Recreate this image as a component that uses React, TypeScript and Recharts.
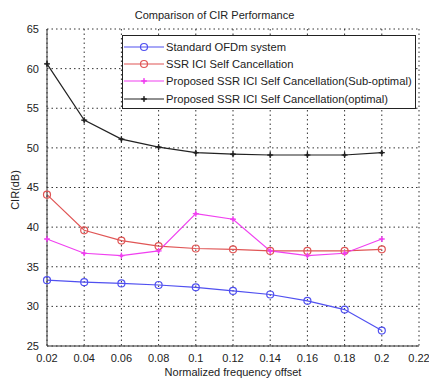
// CIR comparison chart — MATLAB style line plot
import { CartesianGrid, Line, LineChart, XAxis, YAxis } from "recharts";

const offsets = [0.02, 0.04, 0.06, 0.08, 0.1, 0.12, 0.14, 0.16, 0.18, 0.2];
const standardOfdm = [33.3, 33.05, 32.9, 32.7, 32.4, 31.95, 31.5, 30.7, 29.6, 26.95];
const ssrIci = [44.1, 39.6, 38.3, 37.6, 37.3, 37.2, 37.0, 37.0, 37.0, 37.2];
const subOptimal = [38.5, 36.7, 36.4, 37.0, 41.7, 41.0, 37.0, 36.4, 36.7, 38.5];
const optimal = [60.6, 53.5, 51.1, 50.1, 49.4, 49.2, 49.1, 49.1, 49.1, 49.4];

const xTicks = [0.02, 0.04, 0.06, 0.08, 0.1, 0.12, 0.14, 0.16, 0.18, 0.2, 0.22];
const yTicks = [25, 30, 35, 40, 45, 50, 55, 60, 65];

const series = [
  { key: "std", name: "Standard OFDm system", color: "#5050f0", marker: "circle" },
  { key: "ssr", name: "SSR ICI Self Cancellation", color: "#e05555", marker: "circle" },
  { key: "sub", name: "Proposed SSR ICI Self Cancellation(Sub-optimal)", color: "#f040f0", marker: "star" },
  { key: "opt", name: "Proposed SSR ICI Self Cancellation(optimal)", color: "#222222", marker: "star" },
];

const data = offsets.map((x, i) => ({ x, std: standardOfdm[i], ssr: ssrIci[i], sub: subOptimal[i], opt: optimal[i] }));

const FONT = "'Liberation Sans', Arial, sans-serif";
const TICK = { fontSize: 11, fill: "#222", fontFamily: FONT };

function Marker({ cx, cy, color, kind }: { cx: number; cy: number; color: string; kind: string }) {
  if (kind === "circle") return <circle cx={cx} cy={cy} r={3.5} fill="none" stroke={color} strokeWidth={1.2} />;
  return (
    <g stroke={color} strokeWidth={1.3}>
      <line x1={cx - 3} y1={cy} x2={cx + 3} y2={cy} />
      <line x1={cx} y1={cy - 3} x2={cx} y2={cy + 3} />
      <circle cx={cx} cy={cy} r={1.6} fill={color} stroke="none" />
    </g>
  );
}

function LegendBox() {
  return (
    <div style={{ position: "absolute", left: 122, top: 35, width: 294, height: 74, boxSizing: "border-box", border: "1px solid #222", background: "#fff", padding: "2px 0 0 1px", fontFamily: FONT, fontSize: 11.2, color: "#222", zIndex: 2 }}>
      {series.map((s) => (
        <div key={s.key} style={{ display: "flex", alignItems: "center", height: 17.4 }}>
          <svg width={40} height={10} style={{ marginRight: 2, flex: "none" }}>
            <line x1={0} y1={5} x2={40} y2={5} stroke={s.color} strokeWidth={1.2} />
            <Marker cx={20} cy={5} color={s.color} kind={s.marker} />
          </svg>
          <span style={{ whiteSpace: "nowrap" }}>{s.name}</span>
        </div>
      ))}
    </div>
  );
}

const noLabel = () => "";

export default function App() {
  return (
    <div style={{ position: "absolute", left: 0, top: 0, width: 429, height: 379, background: "#fff" }}>
      <div style={{ position: "absolute", left: 0, right: 0, top: 9, textAlign: "center", fontFamily: FONT, fontSize: 11, color: "#222" }}>
        Comparison of CIR Performance
      </div>
      <div style={{ position: "absolute", left: 15, top: 190, transform: "translate(-50%, -50%) rotate(-90deg)", fontFamily: FONT, fontSize: 11, color: "#222", whiteSpace: "nowrap" }}>
        CIR(dB)
      </div>
      <div style={{ position: "absolute", left: 47, right: 10, top: 366, textAlign: "center", fontFamily: FONT, fontSize: 11, color: "#222" }}>
        Normalized frequency offset
      </div>
      <LineChart width={429} height={379} data={data} margin={{ top: 29, right: 10, left: 0, bottom: 0 }}>
        <CartesianGrid stroke="#333" strokeDasharray="1.5 3" />
        <XAxis dataKey="x" type="number" domain={[0.02, 0.22]} ticks={xTicks} interval={0} height={33} tick={TICK} tickLine={false} stroke="#333" tickMargin={2} />
        <XAxis xAxisId="top" dataKey="x" type="number" domain={[0.02, 0.22]} ticks={xTicks} interval={0} orientation="top" mirror height={0} tickSize={4} tickFormatter={noLabel} stroke="#333" />
        <YAxis domain={[25, 65]} ticks={yTicks} interval={0} width={47} tick={TICK} tickLine={false} stroke="#333" tickMargin={2} />
        <YAxis yAxisId="right" domain={[25, 65]} ticks={yTicks} interval={0} orientation="right" mirror width={0} tickSize={4} tickFormatter={noLabel} stroke="#333" />
        {series.map((s) => (
          <Line
            key={s.key}
            dataKey={s.key}
            name={s.name}
            stroke={s.color}
            strokeWidth={1.2}
            isAnimationActive={false}
            dot={(p: { cx: number; cy: number; index: number }) => <Marker key={p.index} cx={p.cx} cy={p.cy} color={s.color} kind={s.marker} />}
            activeDot={false}
          />
        ))}
      </LineChart>
      <LegendBox />
    </div>
  );
}
